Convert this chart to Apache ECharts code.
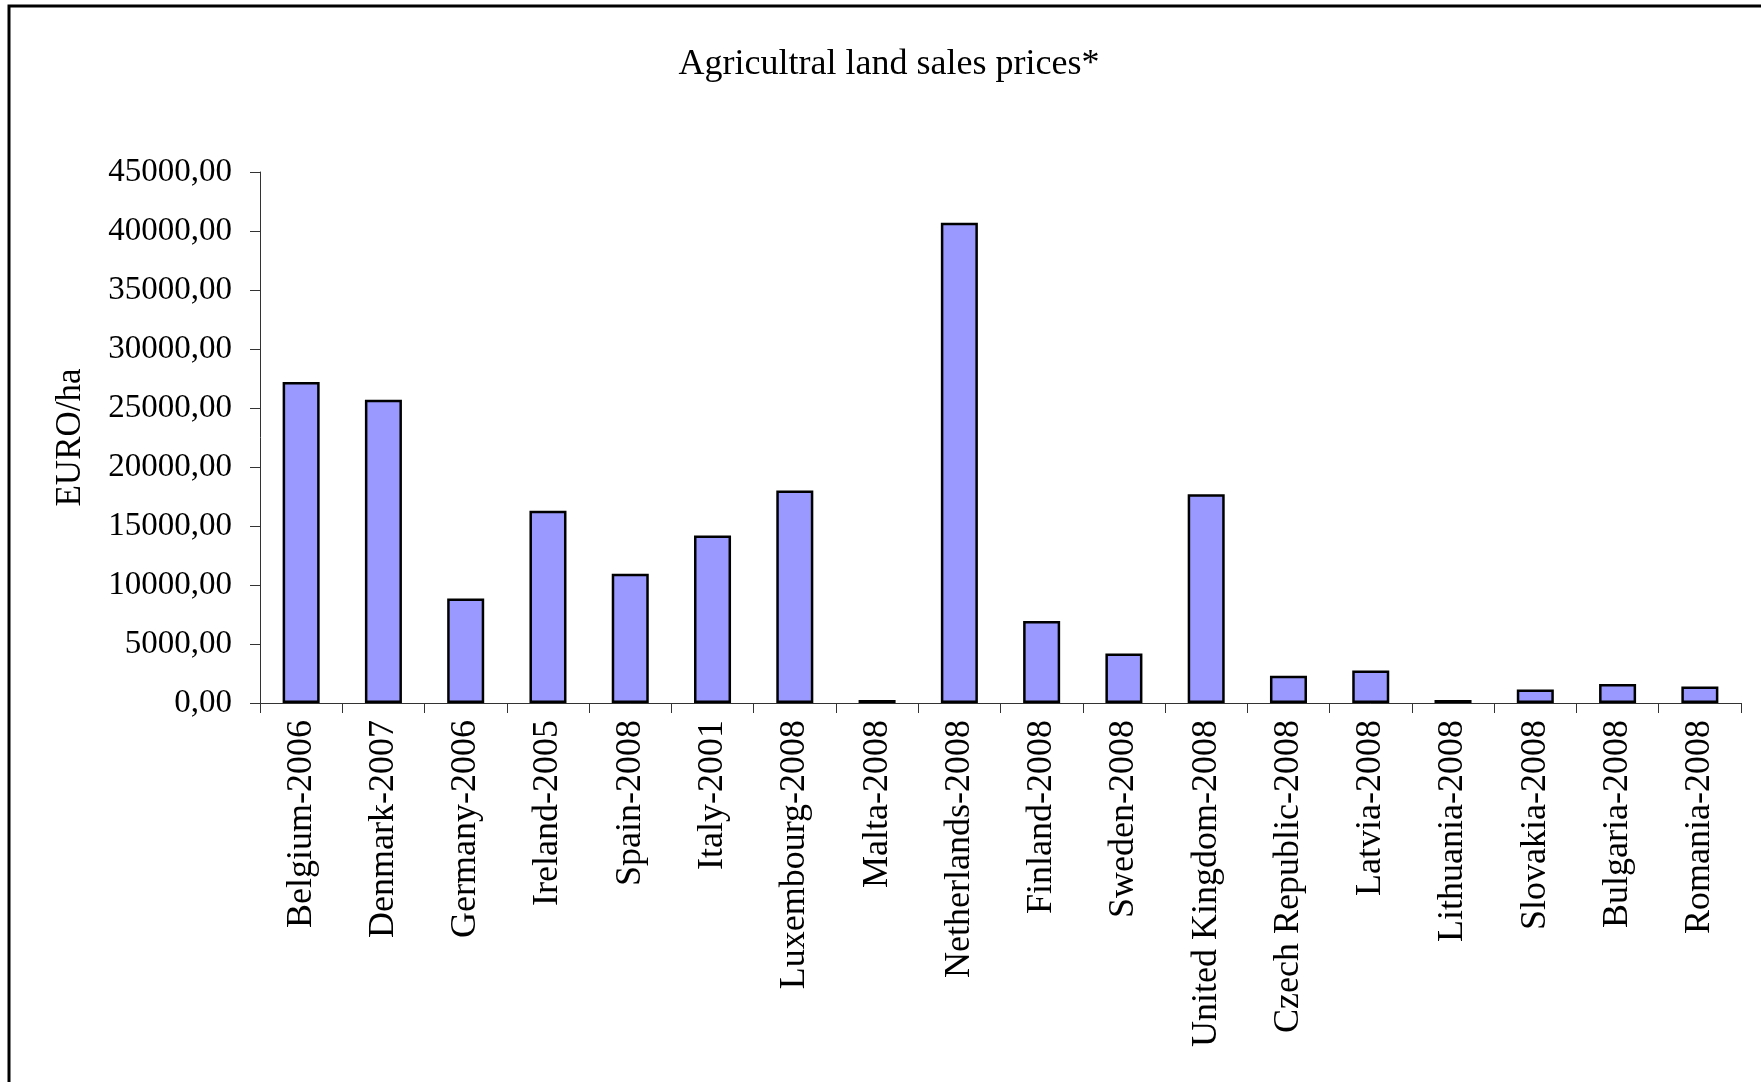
<!DOCTYPE html>
<html>
<head>
<meta charset="utf-8">
<title>Agricultral land sales prices</title>
<script src="https://cdn.jsdelivr.net/npm/echarts@6/dist/echarts.min.js"></script>
<style>
  html, body { margin: 0; padding: 0; background: #fff; }
  #chart { width: 1761px; height: 1082px; }
</style>
</head>
<body>
<div id="chart"></div>
<script>
// Country / reference year of the price survey
const countries = [
  'Belgium-2006', 'Denmark-2007', 'Germany-2006', 'Ireland-2005', 'Spain-2008',
  'Italy-2001', 'Luxembourg-2008', 'Malta-2008', 'Netherlands-2008', 'Finland-2008',
  'Sweden-2008', 'United Kingdom-2008', 'Czech Republic-2008', 'Latvia-2008',
  'Lithuania-2008', 'Slovakia-2008', 'Bulgaria-2008', 'Romania-2008'
];

// Average sales price, EURO per hectare
const pricePerHa = [
  27200, 25700, 8850, 16300, 10950,
  14200, 18000, 250, 40700, 6950,
  4200, 17700, 2300, 2750,
  250, 1150, 1600, 1400
];

// Value-axis range and step
const yMin = 0;
const yMax = 45000;
const yStep = 5000;

const serif = '"Liberation Serif", "Times New Roman", serif';

const chart = echarts.init(document.getElementById('chart'), null, { renderer: 'canvas' });

chart.setOption({
  backgroundColor: '#ffffff',
  animation: false,
  title: {
    text: 'Agricultral land sales prices*',
    left: 884,
    textAlign: 'center',
    top: 42,
    textStyle: { fontFamily: serif, fontSize: 36, fontWeight: 'normal', color: '#000' }
  },
  graphic: [{
    type: 'rect',
    silent: true,
    shape: { x: 9, y: 6, width: 1800, height: 1200 },
    style: { fill: 'none', stroke: '#000', lineWidth: 3 }
  }],
  grid: { left: 260, right: 20, top: 172, bottom: 379, containLabel: false },
  xAxis: {
    type: 'category',
    data: countries,
    axisLine: { lineStyle: { color: '#333', width: 1 } },
    axisTick: { show: true, length: 10, lineStyle: { color: '#333' } },
    axisLabel: {
      rotate: 90,
      interval: 0,
      margin: 17,
      fontFamily: serif,
      fontSize: 36,
      color: '#000'
    }
  },
  yAxis: {
    type: 'value',
    min: yMin,
    max: yMax,
    interval: yStep,
    name: 'EURO/ha',
    nameLocation: 'middle',
    nameGap: 172,
    nameRotate: 90,
    nameTextStyle: { fontFamily: serif, fontSize: 35, color: '#000' },
    axisLine: { show: true, lineStyle: { color: '#333', width: 1 } },
    axisTick: { show: true, length: 10, lineStyle: { color: '#333' } },
    splitLine: { show: false },
    axisLabel: {
      margin: 28,
      fontFamily: serif,
      fontSize: 33,
      color: '#000',
      formatter: v => v.toFixed(2).replace('.', ',')
    }
  },
  series: [{
    type: 'bar',
    data: pricePerHa,
    barWidth: '45%',
    itemStyle: { color: '#9999FF', borderColor: '#000', borderWidth: 2.5 }
  }]
});
</script>
</body>
</html>
